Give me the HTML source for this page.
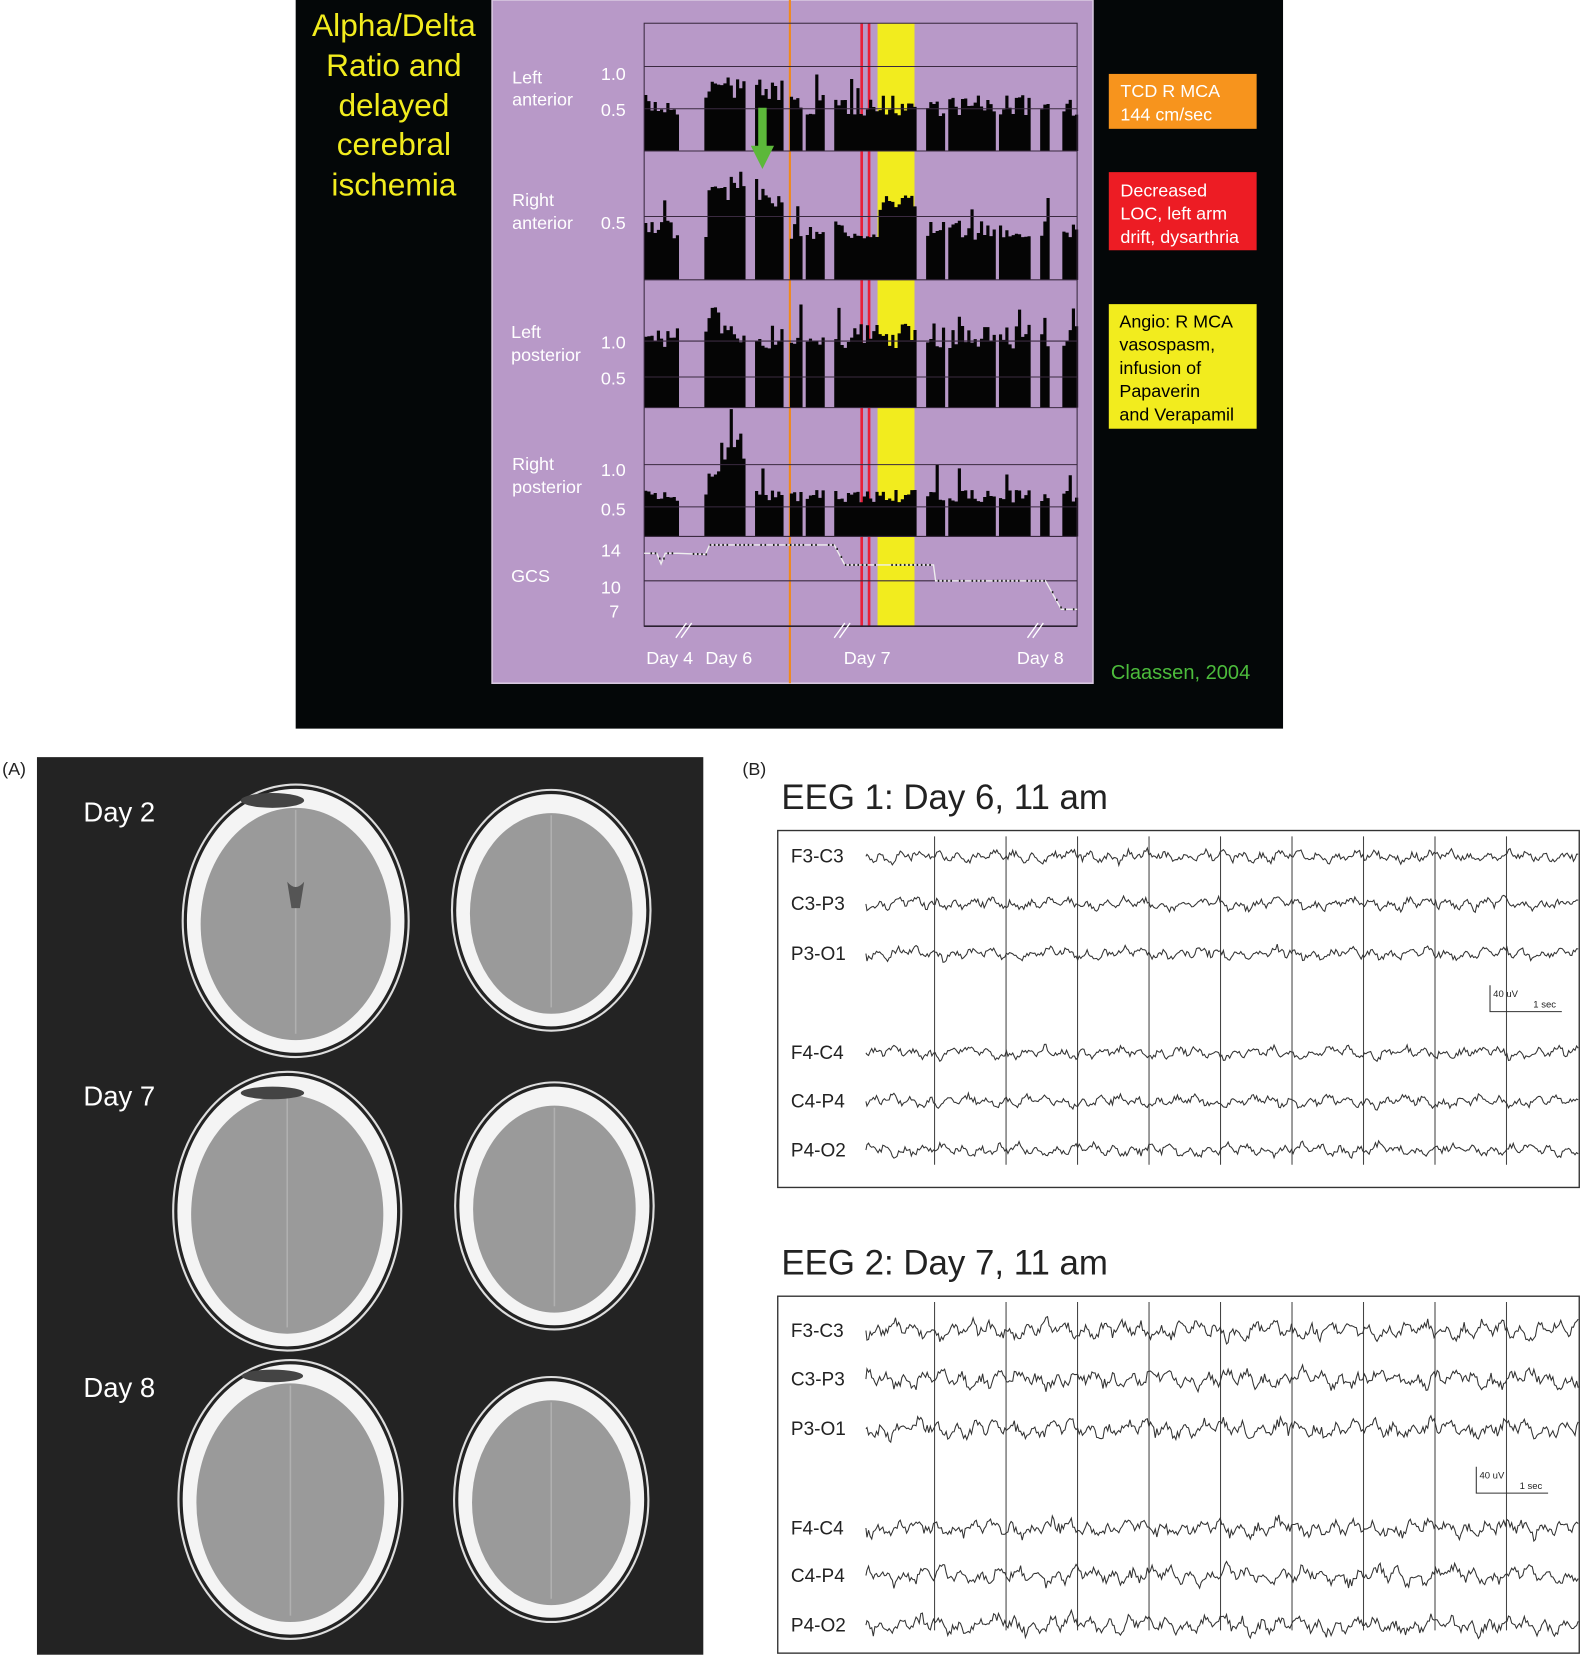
<!DOCTYPE html>
<html><head><meta charset="utf-8"><style>
html,body{margin:0;padding:0;background:#fff;width:1584px;height:1660px;overflow:hidden}
svg{display:block}
text{font-family:"Liberation Sans",Arial,sans-serif}
</style></head><body>
<svg id="s" width="1584" height="1660" viewBox="0 0 1500 1572" preserveAspectRatio="none" xmlns="http://www.w3.org/2000/svg">
<rect x="0" y="0" width="1500" height="1572" fill="#fff"/>
<rect x="280" y="0" width="935" height="690" fill="#040708"/>
<g fill="#f2ec1e" font-size="30" text-anchor="middle">
<text x="373" y="34">Alpha/Delta</text><text x="373" y="72">Ratio and</text><text x="373" y="110">delayed</text><text x="373" y="147">cerebral</text><text x="373" y="185">ischemia</text>
</g>
<rect x="466" y="0" width="569" height="647" fill="#b899c8" stroke="#d8c8e0" stroke-width="1.5"/>
<rect x="831" y="22" width="35" height="571" fill="#f2ec1e"/>
<line x1="748" y1="0" x2="748" y2="647" stroke="#f08a1c" stroke-width="2"/>
<line x1="816" y1="22" x2="816" y2="593" stroke="#e8203a" stroke-width="2.5"/>
<line x1="823" y1="22" x2="823" y2="593" stroke="#e8203a" stroke-width="2.5"/>
<g id="bars"></g>
<g stroke="#3a2a40" stroke-width="1" fill="none">
<rect x="610" y="22" width="410" height="571"/>
<line x1="610" y1="63" x2="1020" y2="63"/><line x1="610" y1="103" x2="1020" y2="103"/>
<line x1="610" y1="143" x2="1020" y2="143"/><line x1="610" y1="205" x2="1020" y2="205"/>
<line x1="610" y1="265" x2="1020" y2="265"/><line x1="610" y1="323" x2="1020" y2="323"/><line x1="610" y1="357" x2="1020" y2="357"/>
<line x1="610" y1="386" x2="1020" y2="386"/><line x1="610" y1="440" x2="1020" y2="440"/><line x1="610" y1="480" x2="1020" y2="480"/>
<line x1="610" y1="508" x2="1020" y2="508"/><line x1="610" y1="550" x2="1020" y2="550"/>
</g>
<g id="gcs"></g>
<line x1="610" y1="593" x2="1020" y2="593" stroke="#2a2030" stroke-width="1.5"/>
<g stroke="#fff" stroke-width="1.3"><line x1="640" y1="604" x2="650" y2="590"/><line x1="645" y1="604" x2="655" y2="590"/>
<line x1="790" y1="604" x2="800" y2="590"/><line x1="795" y1="604" x2="805" y2="590"/>
<line x1="973" y1="604" x2="983" y2="590"/><line x1="978" y1="604" x2="988" y2="590"/></g>
<polygon points="718,102 726,102 726,138 733,138 722,160 711,138 718,138" fill="#5cb83a"/>
<g fill="#fff" font-size="17">
<text x="485" y="79">Left</text><text x="485" y="100">anterior</text>
<text x="485" y="195">Right</text><text x="485" y="217">anterior</text>
<text x="484" y="320">Left</text><text x="484" y="342">posterior</text>
<text x="485" y="445">Right</text><text x="485" y="467">posterior</text>
<text x="484" y="551">GCS</text>
<text x="569" y="76">1.0</text><text x="569" y="110">0.5</text><text x="569" y="217">0.5</text>
<text x="569" y="330">1.0</text><text x="569" y="364">0.5</text><text x="569" y="451">1.0</text><text x="569" y="488">0.5</text>
<text x="569" y="527">14</text><text x="569" y="562">10</text><text x="577" y="585">7</text>
<text x="612" y="629">Day 4</text><text x="668" y="629">Day 6</text><text x="799" y="629">Day 7</text><text x="963" y="629">Day 8</text>
</g>
<rect x="1050" y="70" width="140" height="52" fill="#f7941d"/>
<rect x="1050" y="163" width="140" height="74" fill="#ed1c24"/>
<rect x="1050" y="288" width="140" height="118" fill="#f2ec1e"/>
<g font-size="17" fill="#fff"><text x="1061" y="92">TCD R MCA</text><text x="1061" y="114">144 cm/sec</text>
<text x="1061" y="186">Decreased</text><text x="1061" y="208">LOC, left arm</text><text x="1061" y="230">drift, dysarthria</text></g>
<g font-size="17" fill="#000"><text x="1060" y="310">Angio: R MCA</text><text x="1060" y="332">vasospasm,</text><text x="1060" y="354">infusion of</text><text x="1060" y="376">Papaverin</text><text x="1060" y="398">and Verapamil</text></g>
<text x="1052" y="643" font-size="19" fill="#4cbc3c">Claassen, 2004</text>

<text x="2" y="734" font-size="17" fill="#222">(A)</text>
<rect x="35" y="717" width="631" height="850" fill="#232323"/>
<g id="ct"></g>
<g fill="#fff" font-size="26"><text x="79" y="778">Day 2</text><text x="79" y="1047">Day 7</text><text x="79" y="1323">Day 8</text></g>

<text x="703" y="734" font-size="17" fill="#222">(B)</text>
<text x="740" y="766" font-size="33" fill="#222">EEG 1: Day 6, 11 am</text>
<text x="740" y="1207" font-size="33" fill="#222">EEG 2: Day 7, 11 am</text>
<rect x="736.5" y="786.5" width="759" height="338" fill="none" stroke="#333" stroke-width="1.3"/>
<rect x="736.5" y="1227.5" width="759" height="338" fill="none" stroke="#333" stroke-width="1.3"/>
<g id="eeg"></g>
</svg>
<script>
var NS="http://www.w3.org/2000/svg";
function el(p,t,a){var e=document.createElementNS(NS,t);for(var k in a)e.setAttribute(k,a[k]);p.appendChild(e);return e;}
var seed=7;function rnd(){seed=(seed*16807)%2147483647;return (seed-1)/2147483646;}
var gaps=[[643,667],[705,713],[742,746],[758,763],[779,790],[868,875],[893,898],[941,946],[975,984],[994,1005]];
function inGap(x){for(var i=0;i<gaps.length;i++)if(x>=gaps[i][0]&&x<gaps[i][1])return true;return false;}
var rows=[{b:143,base:100,amp:10,peak:[[668,705,-25],[713,742,-20]]},{b:265,base:218,amp:9,peak:[[668,742,-50],[830,866,-35]]},{b:386,base:318,amp:12,peak:[[668,680,-30]]},{b:508,base:470,amp:6,peak:[[680,705,-60],[668,680,-25]]}];
var bg=document.getElementById("bars");
rows.forEach(function(r){var d="";for(var x=610;x<1020;x+=3){if(inGap(x))continue;var y=r.base+(rnd()-0.5)*2*r.amp;r.peak.forEach(function(p){if(x>=p[0]&&x<p[1])y+=p[2]*(0.6+0.4*rnd());});if(rnd()<0.03)y-=25;d+="M"+x+" "+r.b+"V"+y.toFixed(1)+"H"+(x+3)+"V"+r.b+"Z";}el(bg,"path",{d:d,fill:"#050505"});});
var gg=document.getElementById("gcs");
var pts=[[610,524],[622,524],[626,534],[630,524],[642,524],[668,525],[672,516],[790,516],[800,535],[884,535],[886,550],[990,550],[1005,577],[1020,577]];
el(gg,"polyline",{points:pts.map(function(p){return p.join(",")}).join(" "),fill:"none",stroke:"#eee","stroke-width":1.3});
var dd="";for(var x=612;x<1020;x+=4){var y=0;for(var i=0;i<pts.length-1;i++){if(x>=pts[i][0]&&x<=pts[i+1][0]){var t=(x-pts[i][0])/((pts[i+1][0]-pts[i][0])||1);y=pts[i][1]+t*(pts[i+1][1]-pts[i][1]);}}if(rnd()<0.8)dd+="M"+x+" "+y+"h1.5";}
el(gg,"path",{d:dd,stroke:"#222","stroke-width":2,fill:"none"});
var cg=document.getElementById("ct");
[[280,872,103,125],[522,862,90,110],[272,1147,104,128],[525,1142,90,113],[275,1420,102,128],[522,1420,88,112]].forEach(function(c){
el(cg,"ellipse",{cx:c[0],cy:c[1],rx:c[2]+4,ry:c[3]+4,fill:"none",stroke:"#ddd","stroke-width":2});
el(cg,"ellipse",{cx:c[0],cy:c[1],rx:c[2],ry:c[3],fill:"#f4f4f4"});
el(cg,"ellipse",{cx:c[0],cy:c[1]+3,rx:c[2]-13,ry:c[3]-15,fill:"#9a9a9a"});
el(cg,"line",{x1:c[0],y1:c[1]-c[3]+20,x2:c[0],y2:c[1]+c[3]-18,stroke:"#b0b0b0","stroke-width":1.5});
});
[[228,753,60,14],[228,1030,60,12],[228,1298,58,12]].forEach(function(h){el(cg,"ellipse",{cx:h[0]+30,cy:h[1]+5,rx:h[2]/2,ry:h[3]/2,fill:"#444"});});
el(cg,"path",{d:"M272 835 q8 10 16 0 l-4 25 h-8z",fill:"#555"});
var eg=document.getElementById("eeg");
var labs=["F3-C3","C3-P3","P3-O1","F4-C4","C4-P4","P4-O2"];
[[786,[811,856,903,997,1043,1089],6,[1411,958]],[1227,[1260,1306,1353,1447,1492,1539],9,[1398,1414]]].forEach(function(B,bi){
var top=B[0];
for(var k=0;k<9;k++){var x=885+k*67.7;el(eg,"line",{x1:x,y1:top+6,x2:x,y2:top+317,stroke:"#444","stroke-width":1});}
B[1].forEach(function(y,i){var t=el(eg,"text",{x:749,y:y+6,"font-size":18,fill:"#222"});t.textContent=labs[i];
var d="M820 "+y;var ph=rnd()*6;for(var x=821;x<=1495;x+=1.5){var v=Math.sin(x*0.35+ph)*B[2]*0.5*(0.5+rnd())+(rnd()-0.5)*B[2]*0.9+Math.sin(x*0.09+ph)*B[2]*0.4;d+="L"+x+" "+(y+v).toFixed(1);}
el(eg,"path",{d:d,fill:"none",stroke:"#333","stroke-width":1});});
var sx=B[3][0],sy=B[3][1];el(eg,"path",{d:"M"+sx+" "+(sy-25)+"V"+sy+"H"+(sx+68),fill:"none",stroke:"#333","stroke-width":1});
var a=el(eg,"text",{x:sx+3,y:sy-14,"font-size":9,fill:"#222"});a.textContent="40 uV";
var b=el(eg,"text",{x:sx+41,y:sy-4,"font-size":9,fill:"#222"});b.textContent="1 sec";
});
</script>
</body></html>
